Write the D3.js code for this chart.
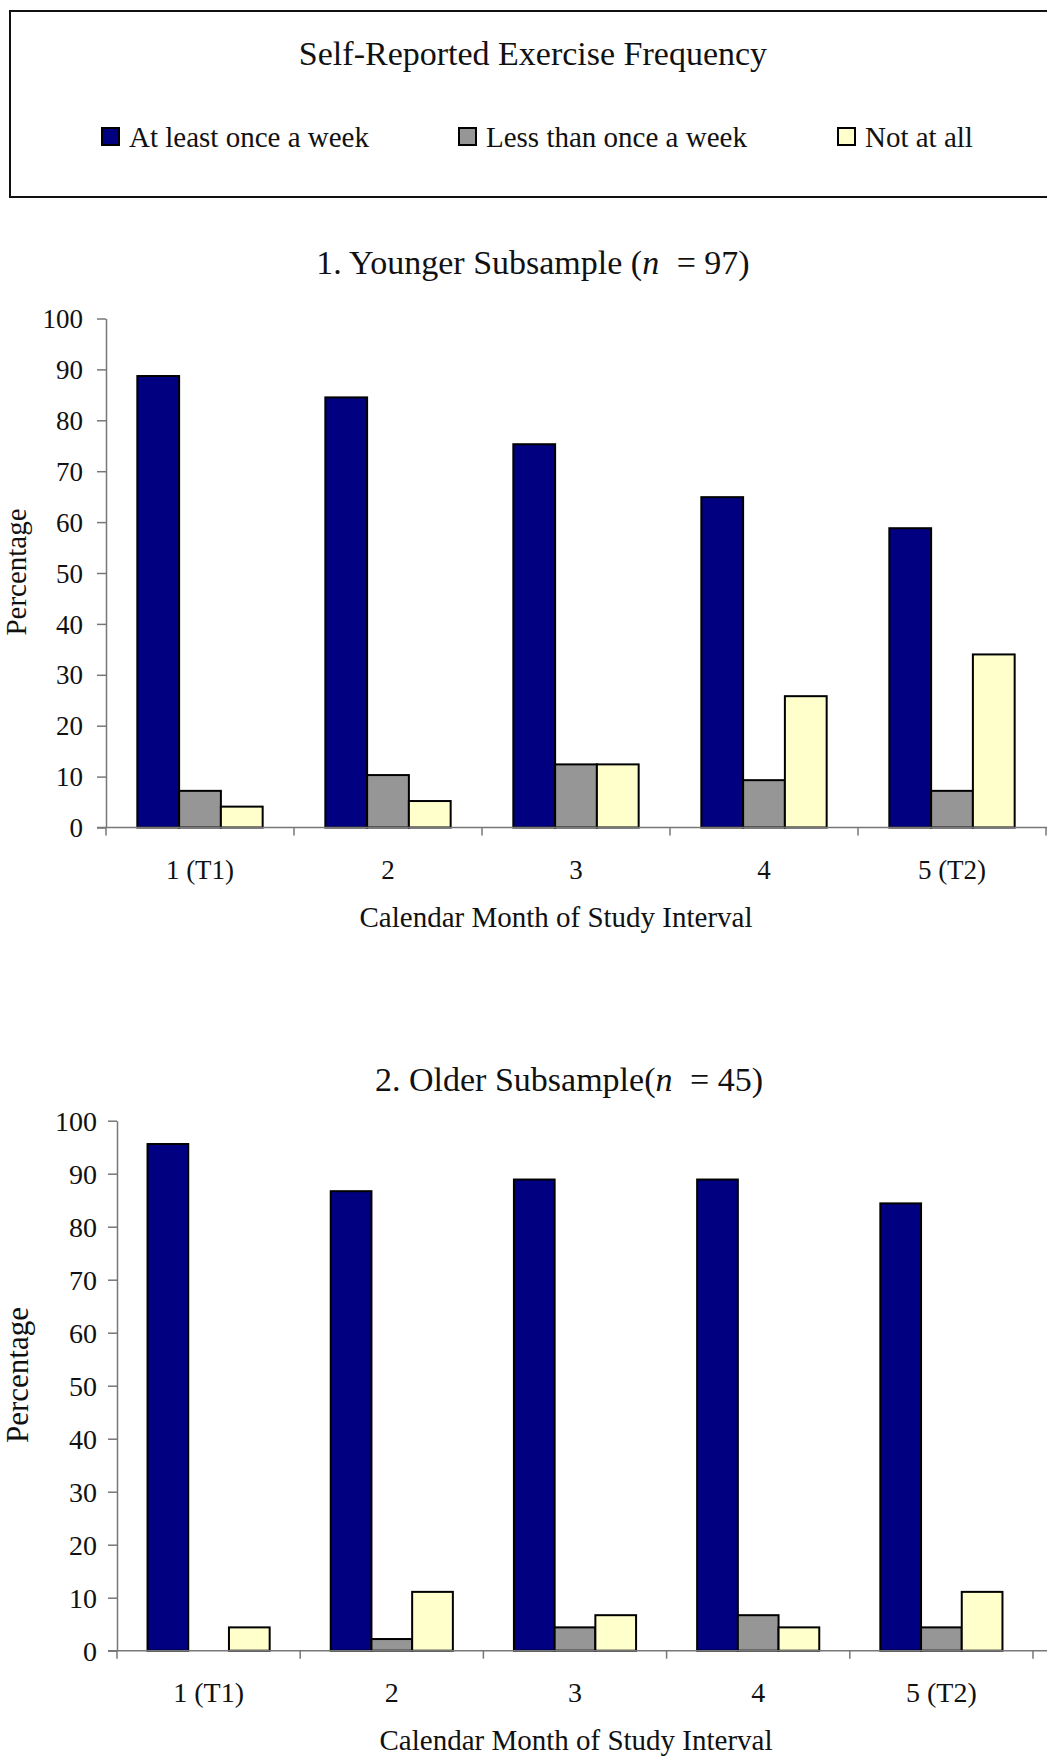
<!DOCTYPE html>
<html>
<head>
<meta charset="utf-8">
<script src="https://cdn.jsdelivr.net/npm/d3@7"></script>
<style>
  html, body { margin: 0; padding: 0; background: #fff; }
  svg { display: block; font-family: "Liberation Serif", "Times New Roman", serif; }
</style>
</head>
<body>
<div id="chart"></div>
<script>
// Exercise frequency by calendar month, two subsamples
const months = ["1 (T1)", "2", "3", "4", "5 (T2)"];
const seriesNames = ["At least once a week", "Less than once a week", "Not at all"];
const seriesColors = ["#000080", "#969696", "#FFFFCC"];
const yTicks = [0, 10, 20, 30, 40, 50, 60, 70, 80, 90, 100];

// Younger subsample (n = 97), percentages
const youngerWeekly = [88.7, 84.5, 75.3, 64.9, 58.8];
const youngerLess   = [7.2, 10.3, 12.4, 9.3, 7.2];
const youngerNone   = [4.1, 5.2, 12.4, 25.8, 34.0];

// Older subsample (n = 45), percentages
const olderWeekly = [95.6, 86.7, 88.9, 88.9, 84.4];
const olderLess   = [0, 2.2, 4.4, 6.7, 4.4];
const olderNone   = [4.4, 11.1, 6.7, 4.4, 11.1];

const W = 1047, H = 1758;
const svg = d3.select("#chart").append("svg")
  .attr("width", W).attr("height", H);
svg.append("rect").attr("width", W).attr("height", H).attr("fill", "#fff");

// ---- Legend panel ----
const legend = svg.append("g");
legend.append("rect")
  .attr("x", 10).attr("y", 11).attr("width", 1060).attr("height", 186)
  .attr("fill", "none").attr("stroke", "#111").attr("stroke-width", 2);
legend.append("text")
  .attr("x", 533).attr("y", 65).attr("text-anchor", "middle")
  .attr("font-size", 34).attr("fill", "#111")
  .text("Self-Reported Exercise Frequency");
const legendX = [102, 459, 838];
seriesNames.forEach((name, i) => {
  const g = legend.append("g");
  g.append("rect")
    .attr("x", legendX[i]).attr("y", 128).attr("width", 17).attr("height", 17)
    .attr("fill", seriesColors[i]).attr("stroke", "#000").attr("stroke-width", 2);
  g.append("text")
    .attr("x", legendX[i] + 27).attr("y", 147)
    .attr("font-size", 29).attr("fill", "#111")
    .text(name);
});

// ---- One grouped bar panel ----
function drawPanel(cfg) {
  const data = months.map((m, i) => ({
    month: m,
    values: cfg.series.map((arr, s) => ({ key: seriesNames[s], value: arr[i], color: seriesColors[s] }))
  }));

  const x0 = d3.scaleBand().domain(months).range([cfg.left, cfg.right]).paddingInner(0).paddingOuter(0);
  const x1 = d3.scaleBand().domain(seriesNames).range([0, x0.bandwidth()]).paddingInner(0).paddingOuter(0.75);
  const y = d3.scaleLinear().domain([0, 100]).range([cfg.bottom, cfg.top]);

  const g = svg.append("g");

  // title
  const t = g.append("text")
    .attr("x", cfg.titleX).attr("y", cfg.titleY).attr("text-anchor", "middle")
    .attr("font-size", 34).attr("fill", "#111");
  t.append("tspan").text(cfg.titleMain);
  t.append("tspan").attr("font-style", "italic").text("n");
  t.append("tspan").attr("dx", 9).text(" = " + cfg.n + ")");

  // bars
  g.selectAll("g.month").data(data).join("g")
    .attr("class", "month")
    .attr("transform", d => `translate(${x0(d.month)},0)`)
    .selectAll("rect").data(d => d.values.filter(v => v.value > 0)).join("rect")
    .attr("x", d => x1(d.key))
    .attr("width", x1.bandwidth())
    .attr("y", d => y(d.value))
    .attr("height", d => y(0) - y(d.value))
    .attr("fill", d => d.color)
    .attr("stroke", "#000").attr("stroke-width", 2);

  // y axis
  const yAxis = g.append("g")
    .attr("transform", `translate(${cfg.left},0)`)
    .call(d3.axisLeft(y).tickValues(yTicks).tickSize(9).tickPadding(cfg.tickPad).tickSizeOuter(0));
  yAxis.select(".domain").attr("stroke", "#777").attr("stroke-width", 1.5);
  yAxis.selectAll(".tick line").attr("stroke", "#777").attr("stroke-width", 1.5);
  yAxis.selectAll(".tick text")
    .attr("font-family", "Liberation Serif, serif")
    .attr("font-size", cfg.tickFont).attr("fill", "#111").attr("dy", "0.34em");

  // x axis: baseline with category boundary ticks
  const xa = g.append("g");
  xa.append("line")
    .attr("x1", cfg.left - 9).attr("x2", 1060)
    .attr("y1", y(0)).attr("y2", y(0))
    .attr("stroke", "#777").attr("stroke-width", 1.5);
  const bounds = months.map(m => x0(m)).concat([x0(months[months.length - 1]) + x0.bandwidth()]);
  xa.selectAll("line.bound").data(bounds).join("line")
    .attr("class", "bound")
    .attr("x1", d => d).attr("x2", d => d)
    .attr("y1", y(0)).attr("y2", y(0) + 8)
    .attr("stroke", "#777").attr("stroke-width", 1.5);
  xa.selectAll("text.cat").data(months).join("text")
    .attr("class", "cat")
    .attr("x", d => x0(d) + x0.bandwidth() / 2)
    .attr("y", cfg.catY)
    .attr("text-anchor", "middle")
    .attr("font-size", cfg.tickFont).attr("fill", "#111")
    .text(d => d);

  // axis titles
  g.append("text")
    .attr("x", cfg.xTitleX).attr("y", cfg.xTitleY).attr("text-anchor", "middle")
    .attr("font-size", 29).attr("fill", "#111")
    .text("Calendar Month of Study Interval");
  g.append("text")
    .attr("transform", `translate(${cfg.yTitleX},${cfg.yTitleY}) rotate(-90)`)
    .attr("text-anchor", "middle")
    .attr("font-size", cfg.yTitleFont).attr("fill", "#111")
    .text("Percentage");
}

drawPanel({
  series: [youngerWeekly, youngerLess, youngerNone],
  left: 106, right: 1046, top: 318.5, bottom: 827.5,
  titleMain: "1. Younger Subsample (", n: 97, titleX: 533, titleY: 274,
  tickPad: 14, tickFont: 27, catY: 879,
  xTitleX: 556, xTitleY: 927,
  yTitleX: 26, yTitleY: 572, yTitleFont: 29
});

drawPanel({
  series: [olderWeekly, olderLess, olderNone],
  left: 117, right: 1033, top: 1120.7, bottom: 1650.7,
  titleMain: "2. Older Subsample(", n: 45, titleX: 569, titleY: 1091,
  tickPad: 11, tickFont: 28, catY: 1702,
  xTitleX: 576, xTitleY: 1750,
  yTitleX: 28, yTitleY: 1375, yTitleFont: 31
});
</script>
</body>
</html>
